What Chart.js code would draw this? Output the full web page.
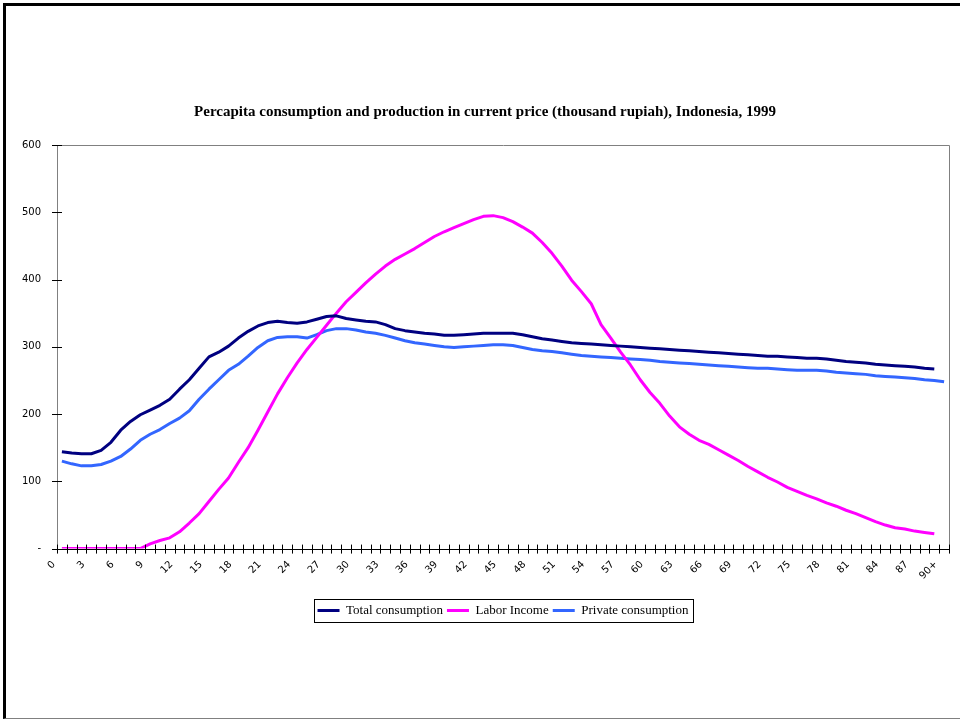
<!DOCTYPE html>
<html><head><meta charset="utf-8">
<script src="https://cdn.jsdelivr.net/npm/chart.js@4.4.0/dist/chart.umd.min.js"></script>
<style>
html,body{margin:0;padding:0;background:#fff;}
#wrap{position:relative;width:960px;height:721px;overflow:hidden;background:#fff;}
#frame{position:absolute;left:3px;top:3px;width:957px;height:716px;border-top:3px solid #000;border-left:3px solid #000;border-bottom:1px solid #808080;box-sizing:border-box;pointer-events:none;}
canvas{position:absolute;left:0;top:0;}
</style></head><body>
<div id="wrap"><canvas id="c" width="960" height="721"></canvas><div id="frame"></div></div>
<script>
const ages = ['0','1','2','3','4','5','6','7','8','9','10','11','12','13','14','15','16','17','18','19',
'20','21','22','23','24','25','26','27','28','29','30','31','32','33','34','35','36','37','38','39',
'40','41','42','43','44','45','46','47','48','49','50','51','52','53','54','55','56','57','58','59',
'60','61','62','63','64','65','66','67','68','69','70','71','72','73','74','75','76','77','78','79',
'80','81','82','83','84','85','86','87','88','89','90+'];

const totalConsumption = [144,142,141,141,146,158,176,189,199,206,
213,222,237,251,268,285,292,301,313,323,
331,336,338,336,335,337,341,345,346,342,
340,338,337,333,327,324,322,320,319,317,
317,318,319,320,320,320,320,318,315,312,
310,308,306,305,304,303,302,301,300,299,
298,297,296,295,294,293,292,291,290,289,
288,287,286,286,285,284,283,283,282,280,
278,277,276,274,273,272,271,270,268,267];

const laborIncome = [0,0,0,0,0,0,0,0,0,7,
12,16,25,38,52,70,88,105,128,150,
176,203,230,254,276,296,314,332,350,367,
381,395,408,420,430,438,446,455,464,471,
477,483,489,494,495,492,486,478,469,455,
439,420,399,382,364,333,313,292,273,251,
232,216,197,181,170,161,155,147,139,131,
122,114,106,99,91,85,79,74,68,63,
57,52,46,40,35,31,29,26,24,22];

const privateConsumption = [130,126,123,123,125,130,137,148,161,170,
177,186,194,205,222,237,251,265,274,286,
299,309,314,315,315,313,318,324,327,327,
325,322,320,317,313,309,306,304,302,300,
299,300,301,302,303,303,302,299,296,294,
293,291,289,287,286,285,284,283,282,281,
280,278,277,276,275,274,273,272,271,270,
269,268,268,267,266,265,265,265,264,262,
261,260,259,257,256,255,254,253,251,250,248];

const yTicks = [0,100,200,300,400,500,600];

const decor = {
  id: 'decor',
  afterLayout(chart) {
    const lg = chart.legend, ca = chart.chartArea;
    if (!lg) return;
    const dx = (ca.left + ca.right) / 2 - (lg.left + lg.right) / 2;
    lg.left += dx; lg.right += dx;
  },
  beforeDatasetsDraw(chart) {
    const {ctx, chartArea: ca} = chart;
    ctx.save();
    ctx.strokeStyle = '#808080';
    ctx.lineWidth = 1;
    ctx.beginPath();
    ctx.moveTo(Math.round(ca.left) + 0.5, Math.round(ca.top) + 0.5);
    ctx.lineTo(Math.round(ca.right) + 0.5, Math.round(ca.top) + 0.5);
    ctx.lineTo(Math.round(ca.right) + 0.5, Math.round(ca.bottom) + 0.5);
    ctx.stroke();
    ctx.restore();
  },
  afterDraw(chart) {
    const {ctx, chartArea: ca} = chart;
    const xs = chart.scales.x, ys = chart.scales.y;
    ctx.save();
    ctx.strokeStyle = '#000';
    ctx.lineWidth = 1;
    ctx.beginPath();
    ys.ticks.forEach(t => {
      const py = Math.round(ys.getPixelForValue(t.value)) + 0.5;
      ctx.moveTo(ca.left - 5, py); ctx.lineTo(ca.left + 5, py);
    });
    const n = xs.getLabels().length;
    const w = (xs.right - xs.left) / n;
    for (let k = 0; k <= n; k++) {
      const px = Math.round(xs.getPixelForValue(0) - w / 2 + k * w) + 0.5;
      ctx.moveTo(px, ca.bottom - 4); ctx.lineTo(px, ca.bottom + 5);
    }
    ctx.stroke();
    ctx.beginPath();
    ctx.moveTo(ca.left, Math.round(ca.bottom) + 0.5);
    ctx.lineTo(ca.right, Math.round(ca.bottom) + 0.5);
    ctx.stroke();
    const lg = chart.legend;
    if (lg && lg.legendHitBoxes && lg.legendHitBoxes.length) {
      let l = Infinity, r = -Infinity, t = Infinity, b = -Infinity;
      lg.legendHitBoxes.forEach(h => {
        l = Math.min(l, h.left); r = Math.max(r, h.left + h.width);
        t = Math.min(t, h.top); b = Math.max(b, h.top + h.height);
      });
      ctx.strokeStyle = '#000';
      ctx.strokeRect(Math.round(l - 4) + 0.5, Math.round(t - 5) + 0.5, Math.round(r - l + 8), Math.round(b - t + 10));
    }
    ctx.restore();
  }
};

new Chart(document.getElementById('c'), {
  type: 'line',
  data: {
    labels: ages,
    datasets: [
      {label: 'Total consumption', data: totalConsumption, borderColor: '#000080', backgroundColor: '#000080', borderWidth: 3},
      {label: 'Labor Income', data: laborIncome, borderColor: '#FF00FF', backgroundColor: '#FF00FF', borderWidth: 3},
      {label: 'Private consumption', data: privateConsumption, borderColor: '#3366FF', backgroundColor: '#3366FF', borderWidth: 3}
    ]
  },
  options: {
    responsive: false,
    animation: false,
    events: [],
    elements: {
      line: {borderWidth: 3, tension: 0, borderCapStyle: 'butt', borderJoinStyle: 'round'},
      point: {radius: 0, hoverRadius: 0}
    },
    layout: {padding: {top: 100, left: 21, right: 11, bottom: 94}},
    plugins: {
      title: {
        display: true,
        text: 'Percapita consumption and production in current price (thousand rupiah), Indonesia, 1999',
        color: '#000',
        font: {family: 'Liberation Serif', size: 15, weight: 'bold'},
        padding: {top: 3, bottom: 24}
      },
      legend: {
        display: true,
        position: 'bottom',
        labels: {
          color: '#000',
          font: {family: 'Liberation Serif', size: 13},
          usePointStyle: true,
          pointStyle: 'line',
          pointStyleWidth: 22,
          boxHeight: 12,
          padding: 4
        }
      },
      tooltip: {enabled: false}
    },
    scales: {
      x: {
        type: 'category',
        offset: true,
        grid: {display: false, drawTicks: false, offset: true},
        border: {display: false},
        afterFit: (axis) => { axis.paddingLeft = 0; axis.paddingRight = 0; axis.height += 8; },
        ticks: {
          autoSkip: false,
          maxRotation: 45,
          minRotation: 45,
          padding: 10,
          labelOffset: -8,
          color: '#000',
          font: {family: 'DejaVu Sans', size: 10},
          callback: function(value, index) { return index % 3 === 0 ? this.getLabelForValue(value) : ''; }
        }
      },
      y: {
        min: 0,
        max: 600,
        afterBuildTicks: (axis) => { axis.ticks = yTicks.map(v => ({value: v})); },
        afterFit: (axis) => { axis.width = 36; },
        grid: {display: false, drawTicks: false},
        border: {display: true, color: '#808080', width: 1},
        ticks: {
          padding: 16,
          color: '#000',
          font: {family: 'DejaVu Sans', size: 10},
          callback: (v) => v === 0 ? '-' : String(v)
        }
      }
    }
  },
  plugins: [decor]
});
</script>
</body></html>
